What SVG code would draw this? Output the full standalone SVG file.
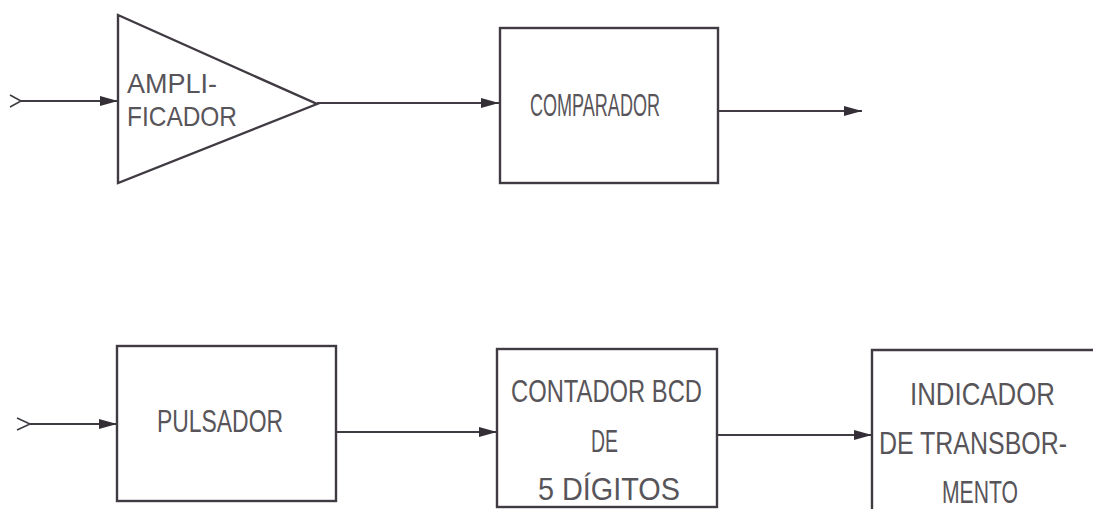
<svg xmlns="http://www.w3.org/2000/svg" width="1093" height="509" viewBox="0 0 1093 509">
<style>
.sh{fill:none;stroke:#403b42;stroke-width:2.4}
.ln{fill:none;stroke:#403b42;stroke-width:2.2}
.ch{fill:none;stroke:#403b42;stroke-width:1.6}
.t{font-family:"Liberation Sans","DejaVu Sans",sans-serif;font-size:31px;fill:#58555a}
.s{font-size:28px}
</style>
<defs>
<marker id="ah" viewBox="0 0 18 10" refX="18" refY="5" markerWidth="18" markerHeight="10" markerUnits="userSpaceOnUse" orient="auto">
<path d="M0,0 L18,5 L0,10 Z" fill="#342f36"/>
</marker>
</defs>
<rect width="1093" height="509" fill="#fff"/>
<g id="connectors">
<path class="ch" d="M10,95 L21,101 L10,107"/>
<line class="ln" x1="21" y1="101" x2="118" y2="101" marker-end="url(#ah)"/>
<line class="ln" x1="317" y1="103" x2="499" y2="103" stroke-width="3" marker-end="url(#ah)"/>
<line class="ln" x1="718" y1="111" x2="862" y2="111" marker-end="url(#ah)"/>
<path class="ch" d="M17,418 L30,424 L17,430"/>
<line class="ln" x1="30" y1="424" x2="117" y2="424" marker-end="url(#ah)"/>
<line class="ln" x1="336" y1="432" x2="497" y2="432" marker-end="url(#ah)"/>
<line class="ln" x1="717" y1="435" x2="872" y2="435" marker-end="url(#ah)"/>
</g>
<g id="amplificador">
<path class="sh" d="M118,15 L317,104 L118,183 Z"/>
<text class="t s" x="127" y="93" textLength="90" lengthAdjust="spacingAndGlyphs">AMPLI-</text>
<text class="t s" x="127" y="126" textLength="110" lengthAdjust="spacingAndGlyphs">FICADOR</text>
</g>
<g id="comparador">
<rect class="sh" x="500" y="28" width="218" height="155"/>
<text class="t" x="530" y="116" textLength="130" lengthAdjust="spacingAndGlyphs">COMPARADOR</text>
</g>
<g id="pulsador">
<rect class="sh" x="117" y="346" width="219" height="155"/>
<text class="t" x="157" y="432" textLength="126" lengthAdjust="spacingAndGlyphs">PULSADOR</text>
</g>
<g id="contador">
<rect class="sh" x="497" y="349" width="220" height="158"/>
<text class="t" x="511" y="402" textLength="191" lengthAdjust="spacingAndGlyphs">CONTADOR BCD</text>
<text class="t" x="591" y="452" textLength="27" lengthAdjust="spacingAndGlyphs">DE</text>
<text class="t" x="538" y="500" textLength="142" lengthAdjust="spacingAndGlyphs">5 DÍGITOS</text>
</g>
<g id="indicador">
<path class="sh" d="M872,520 L872,350 L1100,350"/>
<text class="t" x="910" y="405" textLength="145" lengthAdjust="spacingAndGlyphs">INDICADOR</text>
<text class="t" x="879" y="454" textLength="188" lengthAdjust="spacingAndGlyphs">DE TRANSBOR-</text>
<text class="t" x="942" y="503" textLength="76" lengthAdjust="spacingAndGlyphs">MENTO</text>
</g>
</svg>
